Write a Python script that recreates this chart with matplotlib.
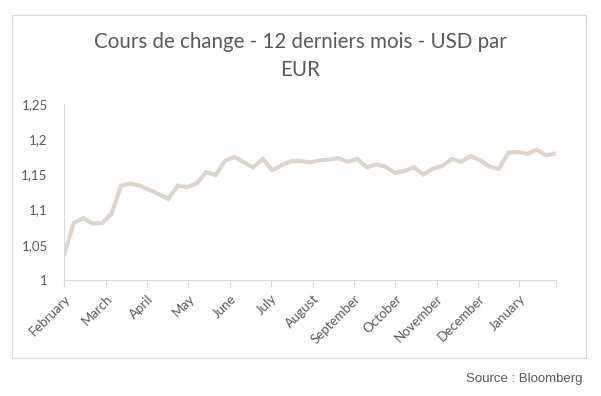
import numpy as np
import matplotlib
matplotlib.use("Agg")
from matplotlib import pyplot as plt
from matplotlib.patches import Rectangle
from matplotlib.ticker import FuncFormatter

# weekly USD per EUR
rates = [1.037, 1.081, 1.088, 1.080, 1.081, 1.094, 1.134, 1.137, 1.134, 1.128,
         1.122, 1.115, 1.134, 1.132, 1.137, 1.153, 1.149, 1.169, 1.175, 1.167,
         1.160, 1.172, 1.156, 1.163, 1.169, 1.169, 1.167, 1.170, 1.171, 1.173,
         1.168, 1.172, 1.160, 1.164, 1.161, 1.152, 1.155, 1.160, 1.150, 1.158,
         1.162, 1.172, 1.168, 1.176, 1.170, 1.161, 1.158, 1.181, 1.182, 1.179,
         1.185, 1.177, 1.180]
months = ["February", "March", "April", "May", "June", "July", "August",
          "September", "October", "November", "December", "January"]
y_ticks = [1.0, 1.05, 1.1, 1.15, 1.2, 1.25]

grey = "#595959"
plt.rcParams['font.family'] = ['Lato', 'DejaVu Sans']

fig = plt.figure(figsize=(6.01, 3.96), dpi=100)
ax = fig.add_axes([0.107, 0.2929, 0.8176, 0.4445])

x_axis = np.arange(len(rates))
ax.plot(x_axis, rates, color="#DDD5CD", linewidth=3.0, solid_joinstyle="miter")

ax.set_xlim(0, len(rates) - 1)
ax.set_ylim(1.0, 1.25)
ax.set_yticks(y_ticks)
ax.yaxis.set_major_formatter(FuncFormatter(lambda v, p: f"{v:g}".replace(".", ",")))
ax.tick_params(axis="y", length=0, pad=12, labelsize=9.5, labelcolor=grey)

# month ticks every ~4.38 weeks
month_pos = np.arange(len(months)) * 4.378
ax.set_xticks(list(month_pos) + [len(rates) - 1])
ax.set_xticklabels(months + [""], rotation=45, ha="right", rotation_mode="anchor")
ax.tick_params(axis="x", length=5, width=0.8, color="#D9D9D9", pad=4,
               labelsize=9.5, labelcolor=grey)

for side in ["top", "right"]:
    ax.spines[side].set_visible(False)
for side in ["left", "bottom"]:
    ax.spines[side].set_color("#D9D9D9")
    ax.spines[side].set_linewidth(0.8)

# chart area border
fig.patches.append(Rectangle((12 / 601, 1 - 358 / 396), 574 / 601, 343 / 396,
                             transform=fig.transFigure, fill=False,
                             edgecolor="#D9D9D9", linewidth=0.8))

fig.text(0.5, 1 - 42 / 396, "Cours de change - 12 derniers mois - USD par",
         ha="center", va="center", fontsize=14.8, color=grey)
fig.text(0.5, 1 - 70 / 396, "EUR", ha="center", va="center", fontsize=14.8, color=grey)

fig.text(583 / 601, 1 - 379 / 396, "Source : Bloomberg", ha="right", va="center",
         fontsize=9.5, color=grey, family=["Liberation Sans", "DejaVu Sans"])

fig.savefig("out.png", dpi=100)
